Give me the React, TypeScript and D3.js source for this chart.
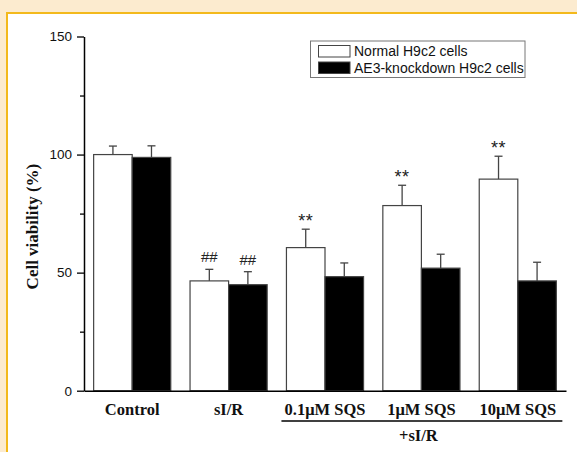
import * as d3 from 'd3';
import { useRef, useEffect } from 'react';

// groups on the x axis
const groups = ['Control', 'sI/R', '0.1μM SQS', '1μM SQS', '10μM SQS'];
const seriesNames = ['Normal H9c2 cells', 'AE3-knockdown H9c2 cells'];

// mean viability (%) and upper error
const normalMean = [100, 46.5, 60.6, 78.4, 89.6];
const normalErr = [3.6, 4.9, 7.8, 8.6, 9.7];
const knockMean = [98.8, 44.9, 48.3, 51.9, 46.5];
const knockErr = [4.9, 5.5, 5.8, 5.9, 7.9];

// significance marks above each bar
const normalMarks = ['', '##', '**', '**', '**'];
const knockMarks = ['', '##', '', '', ''];

const majorTicks = [0, 50, 100, 150];
const minorTicks = [25, 75, 125];

export default function App() {
    const ref = useRef<SVGSVGElement>(null);

    useEffect(() => {
        const svg = d3.select(ref.current);
        svg.selectAll('*').remove();

        const width = 577;
        const height = 452;
        const margin = { top: 36.5, left: 84, right: 11, bottom: 61.3 };

        // page background and frame
        svg.append('rect').attr('width', width).attr('height', height).attr('fill', '#fcebcf');
        svg.append('rect')
            .attr('x', 7).attr('y', 13)
            .attr('width', width + 20).attr('height', height + 20)
            .attr('fill', '#ffffff')
            .attr('stroke', '#f3b91c')
            .attr('stroke-width', 2);

        const x = d3.scaleBand()
            .domain(groups)
            .range([margin.left, width - margin.right])
            .paddingInner(0.2)
            .paddingOuter(0.1);

        const sub = d3.scaleBand()
            .domain(seriesNames)
            .range([0, x.bandwidth()]);

        const y = d3.scaleLinear()
            .domain([0, 150])
            .range([height - margin.bottom, margin.top]);

        const rows = groups.map((g, i) => [
            { g, s: seriesNames[0], v: normalMean[i], e: normalErr[i], mark: normalMarks[i], fill: '#ffffff' },
            { g, s: seriesNames[1], v: knockMean[i], e: knockErr[i], mark: knockMarks[i], fill: '#000000' }
        ]).flat();

        // error bars (upper only)
        const err = svg.append('g').attr('stroke', '#444').attr('stroke-width', 1.3);
        rows.forEach(d => {
            const cx = x(d.g)! + sub(d.s)! + sub.bandwidth() / 2;
            err.append('line').attr('x1', cx).attr('x2', cx).attr('y1', y(d.v)).attr('y2', y(d.v + d.e));
            err.append('line').attr('x1', cx - 4).attr('x2', cx + 4).attr('y1', y(d.v + d.e)).attr('y2', y(d.v + d.e));
        });

        // bars
        svg.append('g')
            .selectAll('rect')
            .data(rows)
            .enter().append('rect')
            .attr('x', d => x(d.g)! + sub(d.s)!)
            .attr('y', d => y(d.v))
            .attr('width', sub.bandwidth())
            .attr('height', d => y(0) - y(d.v))
            .attr('fill', d => d.fill)
            .attr('stroke', '#444')
            .attr('stroke-width', 1.2);

        // significance marks
        svg.append('g')
            .selectAll('text')
            .data(rows.filter(d => d.mark))
            .enter().append('text')
            .attr('x', d => x(d.g)! + sub(d.s)! + sub.bandwidth() / 2)
            .attr('y', d => y(d.v + d.e) - (d.mark === '##' ? 7 : 2))
            .attr('text-anchor', 'middle')
            .attr('font-family', 'Liberation Sans, Arial, sans-serif')
            .attr('font-size', d => d.mark === '##' ? 15 : 18)
            .attr('letter-spacing', d => d.mark === '**' ? 0.5 : 0)
            .attr('fill', '#222')
            .text(d => d.mark);

        // y axis, major and minor ticks
        const yAxis = svg.append('g')
            .attr('transform', `translate(${margin.left},0)`)
            .call(d3.axisLeft(y).tickValues(majorTicks).tickSize(7).tickSizeOuter(0).tickPadding(5));
        yAxis.select('.domain').attr('stroke', '#000').attr('stroke-width', 1.5);
        yAxis.selectAll('.tick line').attr('stroke', '#000').attr('stroke-width', 1.3);
        yAxis.selectAll('.tick text')
            .attr('font-family', 'Liberation Sans, Arial, sans-serif')
            .attr('font-size', 13.5)
            .attr('fill', '#111');

        const yMinor = svg.append('g')
            .attr('transform', `translate(${margin.left},0)`)
            .call(d3.axisLeft(y).tickValues(minorTicks).tickSize(4).tickSizeOuter(0).tickFormat(() => ''));
        yMinor.select('.domain').remove();
        yMinor.selectAll('.tick line').attr('stroke', '#000').attr('stroke-width', 1.3);

        // x axis line and labels
        const xAxis = svg.append('g')
            .attr('transform', `translate(0,${y(0)})`)
            .call(d3.axisBottom(x).tickSize(0).tickSizeOuter(0).tickPadding(13));
        xAxis.select('.domain').attr('stroke', '#000').attr('stroke-width', 1.5);
        xAxis.selectAll('.tick text')
            .attr('font-family', 'Liberation Serif, Times New Roman, serif')
            .attr('font-weight', 'bold')
            .attr('font-size', 16.5)
            .attr('fill', '#111');

        // "+sI/R" bracket under the SQS groups
        const x0 = x('0.1μM SQS')! - 5;
        const x1 = x('10μM SQS')! + x.bandwidth() + 6;
        svg.append('line')
            .attr('x1', x0).attr('x2', x1)
            .attr('y1', 421).attr('y2', 421)
            .attr('stroke', '#000').attr('stroke-width', 1.3);
        svg.append('text')
            .attr('x', x('1μM SQS')! + x.bandwidth() / 2 - 3)
            .attr('y', 441)
            .attr('text-anchor', 'middle')
            .attr('font-family', 'Liberation Serif, Times New Roman, serif')
            .attr('font-weight', 'bold')
            .attr('font-size', 16.5)
            .attr('fill', '#111')
            .text('+sI/R');

        // y axis title
        svg.append('text')
            .attr('transform', `translate(38,${(y(0) + y(150)) / 2 + 13}) rotate(-90)`)
            .attr('text-anchor', 'middle')
            .attr('font-family', 'Liberation Serif, Times New Roman, serif')
            .attr('font-weight', 'bold')
            .attr('font-size', 17)
            .attr('fill', '#111')
            .text('Cell viability (%)');

        // legend
        const lg = svg.append('g');
        lg.append('rect')
            .attr('x', 310.5).attr('y', 41)
            .attr('width', 214.5).attr('height', 36.5)
            .attr('fill', '#fff').attr('stroke', '#777').attr('stroke-width', 1);
        seriesNames.forEach((name, i) => {
            lg.append('rect')
                .attr('x', 318.5).attr('y', 45.5 + i * 16.5)
                .attr('width', 31.5).attr('height', 11.5)
                .attr('fill', i === 0 ? '#fff' : '#000')
                .attr('stroke', '#444').attr('stroke-width', 1);
            lg.append('text')
                .attr('x', 354).attr('y', 56 + i * 16.5)
                .attr('font-family', 'Liberation Sans, Arial, sans-serif')
                .attr('font-size', 14)
                .attr('fill', '#111')
                .text(name);
        });
    }, []);

    return (
        <svg ref={ref} width={577} height={452} style={{ position: 'absolute', left: 0, top: 0 }}></svg>
    );
}
